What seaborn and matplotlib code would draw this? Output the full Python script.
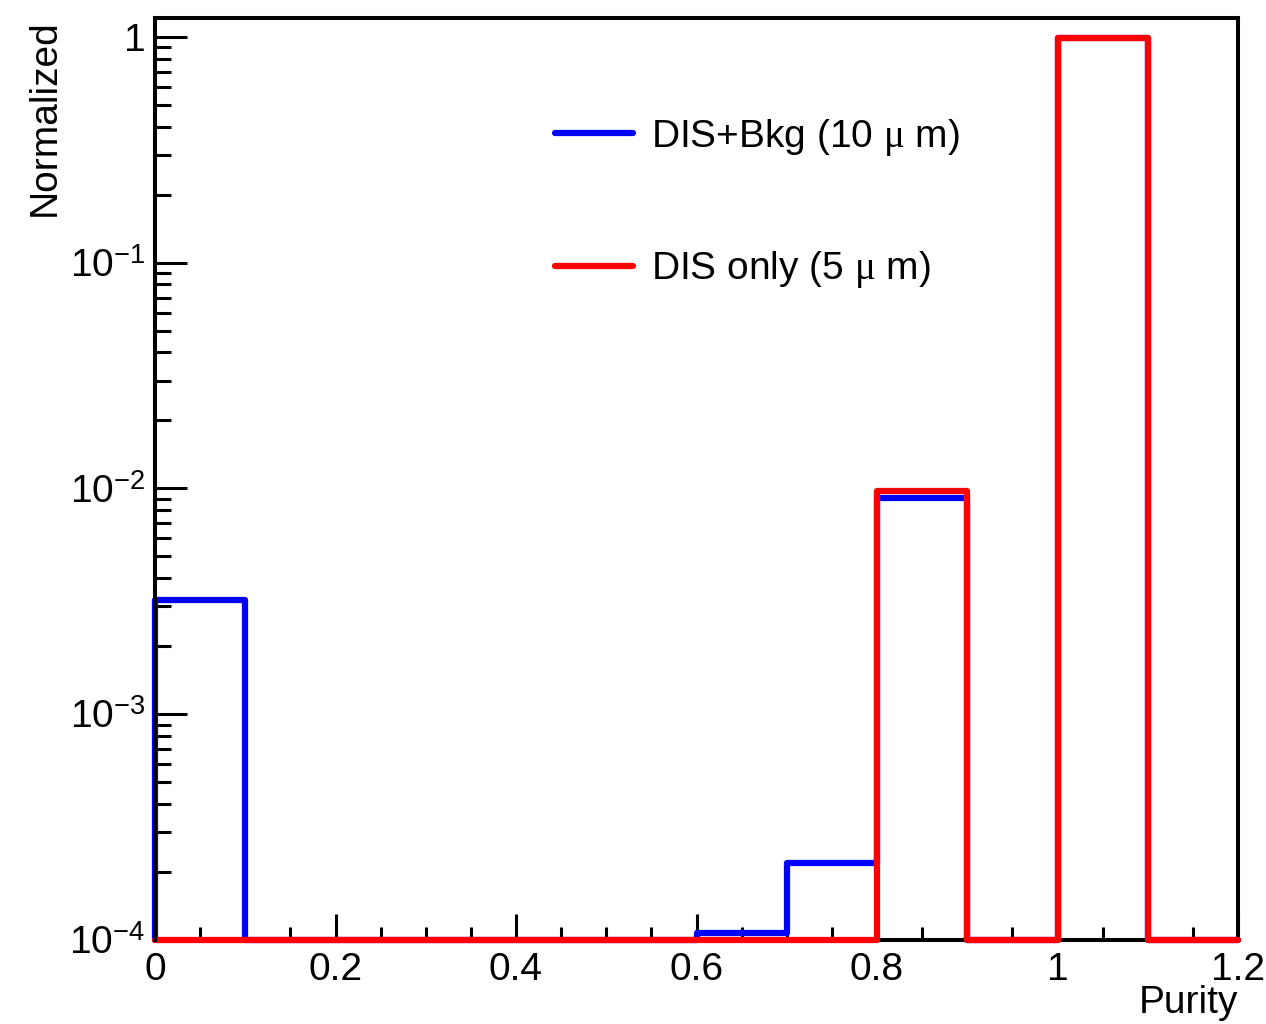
import numpy as np
import pandas as pd
import matplotlib
matplotlib.use("Agg")
import matplotlib.pyplot as plt
import matplotlib.ticker as mticker
import seaborn as sns

# ---- data ----
bin_edges = [0.0, 0.1, 0.2, 0.3, 0.4, 0.5, 0.6, 0.7, 0.8, 0.9, 1.0, 1.1, 1.2]
dis_bkg = [3.2e-3, 0, 0, 0, 0, 0, 1.07e-4, 2.2e-4, 9.1e-3, 0, 0.987, 0]
dis_only = [0, 0, 0, 0, 0, 0, 0, 0, 9.7e-3, 0, 0.990, 0]
labels = ["DIS+Bkg (10 $\\mu$ m)", "DIS only (5 $\\mu$ m)"]
colors = ["#0000ff", "#ff0000"]
ytick_vals = [1e-4, 1e-3, 1e-2, 1e-1, 1]
ytick_labels = ["$10^{-4}$", "$10^{-3}$", "$10^{-2}$", "$10^{-1}$", "1"]
xtick_vals = [0, 0.2, 0.4, 0.6, 0.8, 1.0, 1.2]
xtick_labels = ["0", "0.2", "0.4", "0.6", "0.8", "1", "1.2"]
YMIN, YMAX = 1e-4, 1.21

sns.set_theme(style="white")
plt.rcParams["font.family"] = ["Liberation Sans", "DejaVu Sans"]
plt.rcParams["mathtext.fontset"] = "custom"
plt.rcParams["mathtext.rm"] = "Liberation Sans"
plt.rcParams["mathtext.it"] = "Liberation Serif"
plt.rcParams["mathtext.bf"] = "Liberation Sans:bold"
plt.rcParams["text.color"] = "black"
plt.rcParams["xtick.color"] = "black"
plt.rcParams["ytick.color"] = "black"
plt.rcParams["xtick.labelcolor"] = "black"
plt.rcParams["ytick.labelcolor"] = "black"

FS = 28

def outline(edges, vals):
    v = np.maximum(np.asarray(vals, float), YMIN)
    xs = [edges[0]] + list(edges[:-1]) + [edges[-1], edges[-1]]
    ys = [YMIN] + list(v) + [v[-1], YMIN]
    return xs, ys

frames = []
for name, vals in zip(labels, [dis_bkg, dis_only]):
    xs, ys = outline(bin_edges, vals)
    frames.append(pd.DataFrame({"x": xs, "y": ys, "series": name}))
df = pd.concat(frames, ignore_index=True)

fig = plt.figure(figsize=(12.66, 10.24), dpi=100)
ax = fig.add_axes([155 / 1266, 84 / 1024, (1238 - 155) / 1266, (940 - 18) / 1024])

for name, col in zip(labels, colors):
    sub = df[df["series"] == name]
    sns.lineplot(data=sub, x="x", y="y", ax=ax, color=col, linewidth=4.5,
                 estimator=None, sort=False, drawstyle="steps-post",
                 label=name, clip_on=False, zorder=3)

ax.set_yscale("log")
ax.set_xlim(0, 1.2)
ax.set_ylim(YMIN, YMAX)

ax.set_xticks(xtick_vals)
ax.set_xticklabels(xtick_labels)
ax.xaxis.set_minor_locator(mticker.MultipleLocator(0.05))
ax.yaxis.set_major_locator(mticker.FixedLocator(ytick_vals))
ax.yaxis.set_major_formatter(mticker.FixedFormatter(ytick_labels))
ax.yaxis.set_minor_locator(mticker.LogLocator(base=10, subs=np.arange(2, 10)))
ax.yaxis.set_minor_formatter(mticker.NullFormatter())

ax.tick_params(axis="x", which="major", direction="in", length=19, width=2.2,
               labelsize=FS, pad=9, bottom=True, top=False, color="black", labelcolor="black")
ax.tick_params(axis="x", which="minor", direction="in", length=9.5, width=2.2,
               bottom=True, top=False, color="black")
ax.tick_params(axis="y", which="major", direction="in", length=23, width=2.2,
               labelsize=FS, pad=7, left=True, right=False, color="black", labelcolor="black")
ax.tick_params(axis="y", which="minor", direction="in", length=11.5, width=2.2,
               left=True, right=False, color="black")

for key, s in ax.spines.items():
    s.set_visible(True)
    s.set_color("black")
    s.set_linewidth(2.9)
    s.set_zorder(3.5 if key == "left" else 2.5)

ax.set_xlabel("")
ax.set_ylabel("")
fig.text(1238 / 1266, 1 - 1003 / 1024, "Purity", ha="right", va="center",
         fontsize=FS, color="black")
fig.text(45 / 1266, 1 - 19 / 1024, "Normalized", ha="center", va="top",
         rotation=90, fontsize=FS, color="black")

leg = ax.legend(loc="upper left", bbox_to_anchor=(555 / 1266, 1 - 117 / 1024),
                bbox_transform=fig.transFigure, frameon=False, fontsize=FS,
                handlelength=2.0, handletextpad=0.46, labelspacing=2.35, borderpad=0,
                borderaxespad=0)
for h in leg.get_lines():
    h.set_linewidth(4.5)
for t in leg.get_texts():
    t.set_color("black")

fig.savefig("out.png", dpi=100)
